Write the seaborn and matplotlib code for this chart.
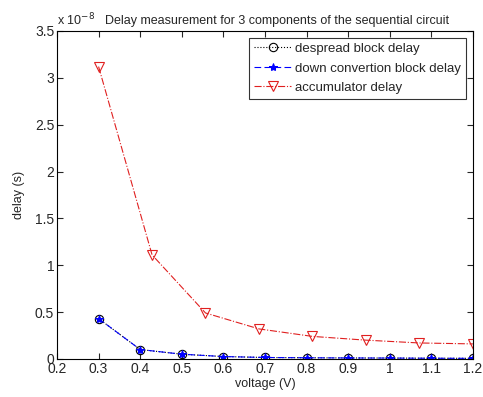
import matplotlib
matplotlib.use("Agg")
import matplotlib.pyplot as plt
import numpy as np
import pandas as pd
import seaborn as sns

# voltage sweep (V)
voltage = [0.3, 0.4, 0.5, 0.6, 0.7, 0.8, 0.9, 1.0, 1.1, 1.2]
# delays in seconds
despread_delay = [0.43e-8, 0.10e-8, 0.05e-8, 0.025e-8, 0.015e-8, 0.012e-8, 0.010e-8, 0.009e-8, 0.007e-8, 0.006e-8]
downconv_delay = [0.43e-8, 0.10e-8, 0.05e-8, 0.025e-8, 0.015e-8, 0.012e-8, 0.010e-8, 0.009e-8, 0.007e-8, 0.006e-8]

acc_voltage = [0.3, 0.4286, 0.5571, 0.6857, 0.8143, 0.9429, 1.0714, 1.2]
acc_delay = [3.12e-8, 1.11e-8, 0.49e-8, 0.32e-8, 0.24e-8, 0.20e-8, 0.17e-8, 0.16e-8]

SCALE = 1e-8

sns.set_style("ticks")
plt.rcParams["font.family"] = ["Liberation Sans", "DejaVu Sans"]

fig = plt.figure(figsize=(4.83, 3.97), dpi=100)
ax = fig.add_axes([0.118, 0.096, 0.861, 0.826])

df_desp = pd.DataFrame({"v": voltage, "d": np.array(despread_delay) / SCALE})
df_down = pd.DataFrame({"v": voltage, "d": np.array(downconv_delay) / SCALE})
df_acc = pd.DataFrame({"v": acc_voltage, "d": np.array(acc_delay) / SCALE})

sns.lineplot(data=df_desp, x="v", y="d", ax=ax, color="black", linestyle=":", lw=0.8,
             marker="o", markersize=6, markerfacecolor="none", markeredgecolor="black",
             markeredgewidth=0.8, label="despread block delay")
sns.lineplot(data=df_down, x="v", y="d", ax=ax, color="#0000ff", linestyle=(0, (6, 3)), lw=0.8,
             marker="*", markersize=6, markerfacecolor="#0000ff", markeredgecolor="#0000ff",
             label="down convertion block delay")
sns.lineplot(data=df_acc, x="v", y="d", ax=ax, color="#e02020", linestyle="-.", lw=0.8,
             marker="v", markersize=7, markerfacecolor="none", markeredgecolor="#e02020",
             markeredgewidth=0.8, label="accumulator delay")

ax.set_xlim(0.2, 1.2)
ax.set_ylim(0, 3.5)
ax.set_xticks([0.2, 0.3, 0.4, 0.5, 0.6, 0.7, 0.8, 0.9, 1.0, 1.1, 1.2])
ax.set_xticklabels(["0.2", "0.3", "0.4", "0.5", "0.6", "0.7", "0.8", "0.9", "1", "1.1", "1.2"])
ax.set_yticks([0, 0.5, 1, 1.5, 2, 2.5, 3, 3.5])
ax.set_yticklabels(["0", "0.5", "1", "1.5", "2", "2.5", "3", "3.5"])
ax.tick_params(direction="in", top=True, right=True, labelsize=10, length=4, width=0.8, pad=2)
for s in ax.spines.values():
    s.set_visible(True)
    s.set_linewidth(0.8)
    s.set_color("black")

ax.set_xlabel("voltage (V)", fontsize=9, labelpad=2)
ax.set_ylabel("delay (s)", fontsize=9, labelpad=7)
ax.set_title("Delay measurement for 3 components of the sequential circuit", fontsize=9, pad=5, x=0.53)
ax.text(0.0, 1.008, r"x 10$^{-8}$", transform=ax.transAxes, fontsize=9, ha="left", va="bottom")

leg = ax.legend(loc="upper right", fontsize=9.5, frameon=True, fancybox=False, handlelength=2.8,
                borderpad=0.4, labelspacing=0.55, handletextpad=0.3, borderaxespad=0.5)
leg.get_frame().set_edgecolor("black")
leg.get_frame().set_linewidth(0.8)

fig.savefig("out.png", dpi=100)
